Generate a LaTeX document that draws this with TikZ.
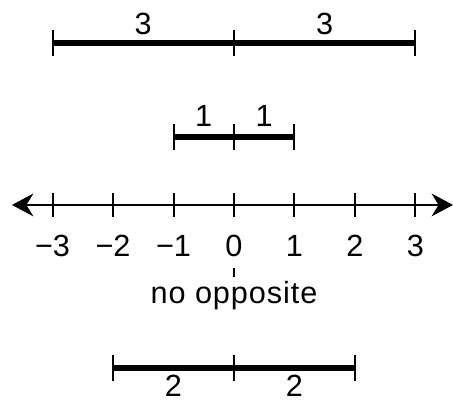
\documentclass[tikz,border=0pt]{standalone}
\usepackage{fontspec}
\setmainfont{Liberation Sans}
\newfontfamily\widefont[LetterSpace=3]{Liberation Sans}
\usetikzlibrary{arrows.meta,positioning}

\begin{document}
\begin{tikzpicture}[x=45.375pt, y=45.375pt,
    every node/.style={font=\fontsize{23}{27}\selectfont, inner sep=0pt},
    axis/.style={line width=1.9pt},   % the number line
    bar/.style={line width=5pt},      % the distance bars
    tick/.style={line width=1.5pt},
    lab/.style={anchor=base}]
  \useasboundingbox (-3.868,-3.273) rectangle (3.620,3.388);

  % number line with arrows at both ends
  \coordinate (left) at (-3.67,0);
  \coordinate (right) at (3.62,0);
  \draw[axis, {Stealth[length=16pt,width=17pt]}-{Stealth[length=16pt,width=17pt]}] (left) -- (right);
  \foreach \n/\s in {-3/−3,-2/−2,-1/−1,0/0,1/1,2/2,3/3} {
    \coordinate (t\n) at (\n,0);
    \draw[tick] ([yshift=-9pt]t\n) -- ([yshift=9pt]t\n);
    \node[lab] (num\n) at (\n,-0.85) {\s};
  }
  \node[lab] (noopp) at (0,-1.635) {\widefont no opposite};
  \draw[tick, shorten <=8.6pt, shorten >=3pt] (num0.south) -- (noopp.north);

  % distance 3 on either side
  \coordinate (topL) at (-3,2.678);
  \coordinate (topM) at (0,2.678);
  \coordinate (topR) at (3,2.678);
  \draw[bar] (topL) -- (topR);
  \foreach \p in {topL,topM,topR}
    \draw[tick] ([yshift=-9.75pt]\p) -- ([yshift=9.75pt]\p);
  \node[lab] (topA) at (-1.5,2.82) {3};
  \node[lab] (topB) at (1.5,2.82) {3};

  % distance 1 on either side
  \coordinate (midL) at (-1,1.124);
  \coordinate (midM) at (0,1.124);
  \coordinate (midR) at (1,1.124);
  \draw[bar] (midL) -- (midR);
  \foreach \p in {midL,midM,midR}
    \draw[tick] ([yshift=-9.5pt]\p) -- ([yshift=9.5pt]\p);
  \node[lab] (midA) at (-0.5,1.29) {1};
  \node[lab] (midB) at (0.5,1.29) {1};

  % distance 2 on either side
  \coordinate (botL) at (-2,-2.694);
  \coordinate (botM) at (0,-2.694);
  \coordinate (botR) at (2,-2.694);
  \draw[bar] (botL) -- (botR);
  \foreach \p in {botL,botM,botR}
    \draw[tick] ([yshift=-10pt]\p) -- ([yshift=10pt]\p);
  \node[lab] (botA) at (-1,-3.17) {2};
  \node[lab] (botB) at (1,-3.17) {2};
\end{tikzpicture}
\end{document}
